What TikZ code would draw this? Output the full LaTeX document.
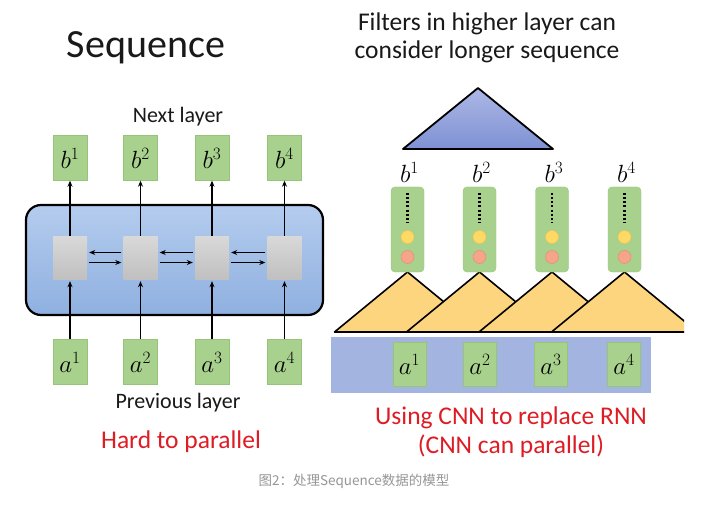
\documentclass[tikz,border=0pt]{standalone}
\usepackage{fontspec}
\setmainfont{Carlito}
\newfontfamily\cjk{Noto Sans CJK SC}
\usetikzlibrary{arrows.meta,positioning}
\definecolor{gfill}{RGB}{169,209,142}
\definecolor{gline}{RGB}{150,196,120}
\definecolor{grayc}{RGB}{207,207,207}
\definecolor{grayd}{RGB}{192,192,192}
\definecolor{rnntop}{RGB}{180,204,238}
\definecolor{rnnbot}{RGB}{143,176,224}
\definecolor{ytri}{RGB}{253,213,126}
\definecolor{bbar}{RGB}{164,180,224}
\definecolor{btritop}{RGB}{172,183,228}
\definecolor{btribot}{RGB}{126,145,212}
\definecolor{redtxt}{RGB}{222,28,36}
\definecolor{ydot}{RGB}{255,217,102}
\definecolor{ydotl}{RGB}{240,195,80}
\definecolor{rdot}{RGB}{244,165,138}
\definecolor{rdotl}{RGB}{230,140,115}
\definecolor{captc}{RGB}{150,150,150}
\definecolor{txt}{RGB}{25,25,25}
\begin{document}
\begin{tikzpicture}[x=1pt,y=-1pt,
  vecbox/.style={draw=gline,fill=gfill,minimum width=34pt,minimum height=45pt,inner sep=0pt,font=\fontsize{24}{28}\selectfont},
  cellbox/.style={fill=grayc,minimum width=34pt,minimum height=43pt,inner sep=0pt,top color=grayc!80!white,bottom color=grayd},
  featbox/.style={fill=gfill,draw=gline,rounded corners=4pt,minimum width=33pt,minimum height=85pt,inner sep=0pt},
  arr/.style={line width=1.8pt,-{Stealth[length=6pt,width=5pt]}},
  ytriangle/.style={fill=ytri,draw=black,line width=1.6pt,line join=round},
  lbl/.style={font=\fontsize{22}{26}\selectfont,text=txt},
  bigtxt/.style={font=\fontsize{25.5}{31}\selectfont,text=txt,align=center},
  redlbl/.style={font=\fontsize{25.5}{31}\selectfont,text=redtxt,align=center},
  mlab/.style={font=\fontsize{24}{28}\selectfont,inner sep=0pt}
]
\useasboundingbox[fill=white] (0,0) rectangle (712,505);

% ---------------- left: RNN ----------------
\node[font=\fontsize{40}{46}\selectfont,text=txt] (title) at (146,48) {Sequence};
\node[lbl] (next) at (178,117) {Next layer};

\node[draw=black,line width=2.2pt,rounded corners=15pt,minimum width=297pt,minimum height=110pt,
      top color=rnntop,bottom color=rnnbot] (rnn) at (174.5,260) {};

\foreach \i/\x in {1/70,2/140.5,3/212,4/284.5}{
  \node[vecbox] (b\i) at (\x,158) {$b^{\i}$};
  \node[cellbox] (g\i) at (\x,257.5) {};
  \node[vecbox] (a\i) at (\x,362) {$a^{\i}$};
  \draw[arr] (g\i.north) -- (b\i.south);
  \draw[arr] (a\i.north) -- ([yshift=-2pt]g\i.south);
}
\foreach \i/\j in {1/2,2/3,3/4}{
  \draw[arr] ([xshift=-2pt,yshift=5pt]g\j.west) -- ([xshift=2pt,yshift=5pt]g\i.east);
  \draw[arr] ([xshift=2pt,yshift=-5pt]g\i.east) -- ([xshift=-2pt,yshift=-5pt]g\j.west);
}

\node[lbl] (prev) at (178,403) {Previous layer};
\node[redlbl] (hard) at (181,442) {Hard to parallel};

% ---------------- right: CNN ----------------
\node[bigtxt] (filters) at (487,38) {Filters in higher layer can\\[-3pt]consider longer sequence};

\coordinate (tA) at (478,88);
\coordinate (tL) at (403,149);
\coordinate (tR) at (553,149);
\draw[line width=1.8pt,line join=round,top color=btritop,bottom color=btribot] (tA) -- (tL) -- (tR) -- cycle;

\fill[bbar] (331,337) rectangle (651,393);

\begin{scope}
  \clip (0,0) rectangle (684,505);
  \foreach \x in {407.5,479.5,552,624.5}{
    \draw[ytriangle] (\x,272) -- (\x-73,332) -- (\x+73,332) -- cycle;
  }
\end{scope}

\foreach \i/\x in {1/407.5,2/479.5,3/552,4/624.5}{
  \node[featbox] (c\i) at (\x,229.5) {};
  \draw[line width=2.2pt,dash pattern=on 2pt off 2.2pt] ([yshift=-6pt]c\i.north) -- ([yshift=-36pt]c\i.north);
  \node[circle,fill=ydot,draw=ydotl,line width=0.5pt,minimum size=13pt,inner sep=0pt] (y\i) at (\x,237) {};
  \node[circle,fill=rdot,draw=rdotl,line width=0.5pt,minimum size=13pt,inner sep=0pt] (r\i) at (\x,257) {};
  \node[mlab,above=4pt of c\i,xshift=2pt] (lb\i) {$b^{\i}$};
}

\foreach \i/\x in {1/409.5,2/480,3/551,4/624}{
  \node[vecbox,minimum width=33pt,minimum height=44pt] (ra\i) at (\x,364) {$a^{\i}$};
}

\node[redlbl] (using) at (511,432) {Using CNN to replace RNN\\[-2pt](CNN can parallel)};

\node[font=\cjk\fontsize{13.5}{15}\selectfont,text=captc] (cap) at (354,481) {图2：处理Sequence数据的模型};
\end{tikzpicture}
\end{document}
